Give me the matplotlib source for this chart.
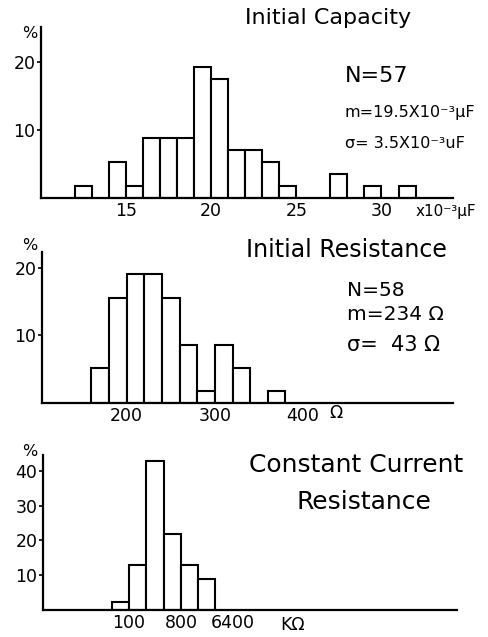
import matplotlib
matplotlib.use("Agg")
import matplotlib.pyplot as plt

# Initial capacity (x10^-3 uF), bins of width 1
cap_left = [12, 14, 15, 16, 17, 18, 19, 20, 21, 22, 23, 24, 27, 29, 31]
cap_pct = [1.8, 5.3, 1.8, 8.8, 8.8, 8.8, 19.3, 17.5, 7.0, 7.0, 5.3, 1.8, 3.5, 1.8, 1.8]
cap_ticks = [15, 20, 25, 30]

# Initial resistance (ohm), bins of width 20
res_left = [160, 180, 200, 220, 240, 260, 280, 300, 320, 360]
res_pct = [5.2, 15.5, 19.0, 19.0, 15.5, 8.6, 1.7, 8.6, 5.2, 1.7]
res_ticks = [200, 300, 400]

# Constant current resistance (kohm), octave bins
cc_left = [50, 100, 200, 400, 800, 1600]
cc_pct = [2.2, 13, 43, 22, 13, 9]
cc_ticks = [100, 800, 6400]

W, H = 489, 637
fig = plt.figure(figsize=(W / 100, H / 100), dpi=100)
plt.rcParams['font.family'] = 'DejaVu Sans'


def make_ax(x0, y_base, x1, y_top):
    # pixel box -> figure fraction
    ax = fig.add_axes([x0 / W, 1 - y_base / H, (x1 - x0) / W, (y_base - y_top) / H])
    for s in ['top', 'right']:
        ax.spines[s].set_visible(False)
    for s in ['left', 'bottom']:
        ax.spines[s].set_linewidth(1.6)
    ax.tick_params(axis='y', direction='out', length=3, width=1.2, pad=1, labelsize=12.5)
    ax.tick_params(axis='x', length=0, pad=3, labelsize=12.5)
    return ax


bar_kw = dict(align='edge', facecolor='white', edgecolor='black', linewidth=1.5)

# panel 1
ax1 = make_ax(41, 198, 453, 27)
ax1.bar(cap_left, cap_pct, width=1, **bar_kw)
ax1.set_xlim(10, 34.2)
ax1.set_ylim(0, 25.1)
ax1.set_yticks([10, 20])
ax1.set_xticks(cap_ticks)
fig.text(30 / W, 1 - 34 / H, '%', ha='center', va='center', fontsize=11.5)
fig.text(328 / W, 1 - 18 / H, 'Initial Capacity', ha='center', va='center', fontsize=16)
fig.text(345 / W, 1 - 76 / H, 'N=57', ha='left', va='center', fontsize=16)
fig.text(345 / W, 1 - 113 / H, 'm=19.5X10⁻³μF', ha='left', va='center', fontsize=11.5)
fig.text(345 / W, 1 - 143 / H, 'σ= 3.5X10⁻³uF', ha='left', va='center', fontsize=11.5)
fig.text(446 / W, 1 - 211 / H, 'x10⁻³μF', ha='center', va='center', fontsize=11)

# panel 2
ax2 = make_ax(42, 403, 453, 252)
ax2.bar(res_left, res_pct, width=20, **bar_kw)
ax2.set_xlim(104, 570)
ax2.set_ylim(0, 22.3)
ax2.set_yticks([10, 20])
ax2.set_xticks(res_ticks)
fig.text(30 / W, 1 - 245 / H, '%', ha='center', va='center', fontsize=11.5)
fig.text(346 / W, 1 - 250 / H, 'Initial Resistance', ha='center', va='center', fontsize=17)
fig.text(347 / W, 1 - 290 / H, 'N=58', ha='left', va='center', fontsize=14.5)
fig.text(347 / W, 1 - 315 / H, 'm=234 Ω', ha='left', va='center', fontsize=14.5)
fig.text(347 / W, 1 - 345 / H, 'σ=  43 Ω', ha='left', va='center', fontsize=15)
fig.text(336 / W, 1 - 413 / H, 'Ω', ha='center', va='center', fontsize=12.5)

# panel 3
ax3 = make_ax(43, 610, 457, 455)
ax3.set_xscale('log', base=2)
ax3.bar(cc_left, cc_pct, width=cc_left, **bar_kw)
ax3.set_xlim(100 * 2 ** -4.97, 100 * 2 ** 18.96)
ax3.set_ylim(0, 44.6)
ax3.set_yticks([10, 20, 30, 40])
ax3.set_xticks(cc_ticks)
ax3.set_xticklabels([str(t) for t in cc_ticks])
ax3.xaxis.set_minor_locator(matplotlib.ticker.NullLocator())
fig.text(30 / W, 1 - 451 / H, '%', ha='center', va='center', fontsize=11.5)
fig.text(356 / W, 1 - 465 / H, 'Constant Current', ha='center', va='center', fontsize=18)
fig.text(364 / W, 1 - 502 / H, 'Resistance', ha='center', va='center', fontsize=18)
fig.text(293 / W, 1 - 625 / H, 'KΩ', ha='center', va='center', fontsize=12.5)

fig.savefig('out.png', dpi=100)
